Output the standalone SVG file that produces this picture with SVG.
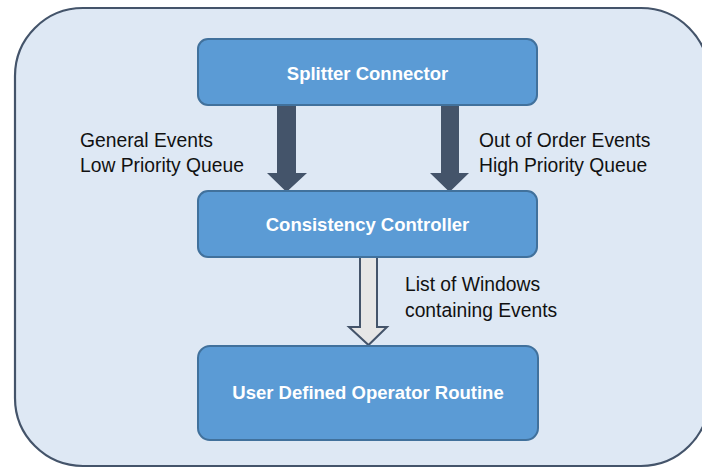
<svg xmlns="http://www.w3.org/2000/svg" width="702" height="468" viewBox="0 0 702 468">
  <style>
    .frame { fill: #dee8f4; stroke: #44546a; stroke-width: 2.2; }
    .box { fill: #5b9bd5; stroke: #41719c; stroke-width: 2; }
    .title { font-family: "Liberation Sans", Arial, sans-serif; font-size: 18.5px; font-weight: bold; fill: #ffffff; text-anchor: middle; }
    .label { font-family: "Liberation Sans", Arial, sans-serif; font-size: 19.3px; fill: #111111; }
    .solid { fill: #44546a; }
    .hollow { fill: #e6e6e6; stroke: #44546a; stroke-width: 2; stroke-linejoin: miter; }
  </style>

  <!-- outer container -->
  <rect class="frame" x="15" y="8" width="694" height="458" rx="68" ry="68"/>

  <g id="connectors">
    <!-- general events, low priority -->
    <path class="solid" d="M277 104 H296 V173 H307 L286.5 192 L267 173 H277 Z"/>
    <!-- out of order events, high priority -->
    <path class="solid" d="M441 104 H459 V173 H469 L449.5 192 L430 173 H441 Z"/>
    <!-- window list -->
    <path class="hollow" d="M360 257 H377 V327 H387 L368.5 345 L349 327 H360 Z"/>
  </g>

  <g id="splitter">
    <rect class="box" x="198" y="39" width="339" height="66" rx="10" ry="10"/>
    <text class="title" x="367.5" y="80">Splitter Connector</text>
  </g>

  <g id="consistency">
    <rect class="box" x="198" y="191" width="339" height="66" rx="10" ry="10"/>
    <text class="title" x="367.5" y="231">Consistency Controller</text>
  </g>

  <g id="operator">
    <rect class="box" x="198" y="346" width="340" height="94" rx="12" ry="12"/>
    <text class="title" x="368" y="399">User Defined Operator Routine</text>
  </g>

  <g id="labels">
    <text class="label" x="80" y="147">General Events</text>
    <text class="label" x="80" y="172">Low Priority Queue</text>
    <text class="label" x="479" y="147">Out of Order Events</text>
    <text class="label" x="479" y="172">High Priority Queue</text>
    <text class="label" x="405" y="291">List of Windows</text>
    <text class="label" x="405" y="317">containing Events</text>
  </g>
</svg>
